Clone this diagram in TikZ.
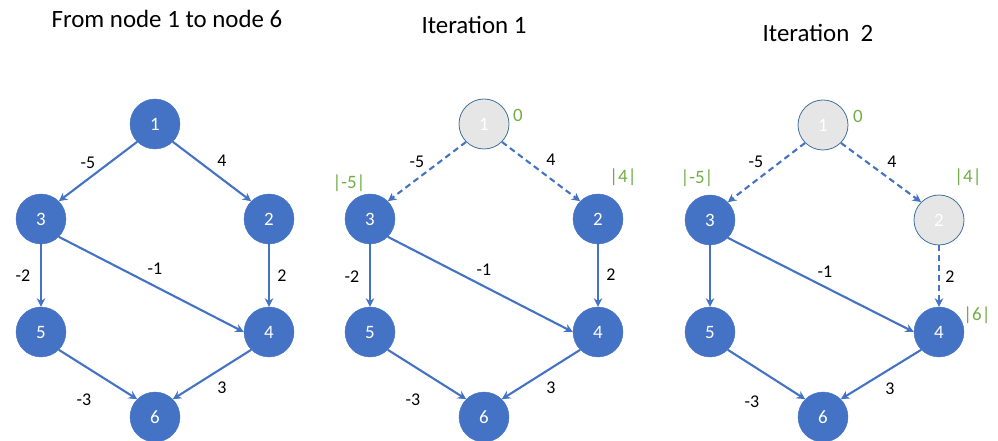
\documentclass[tikz,border=0pt]{standalone}
\usepackage{fontspec}
\setmainfont{Carlito}
\usetikzlibrary{arrows.meta}
\definecolor{nodeblue}{HTML}{4472C4}
\definecolor{edgeblue}{HTML}{4472C4}
\definecolor{visitgray}{HTML}{E7E6E6}
\definecolor{outlineblue}{HTML}{41719C}
\definecolor{distgreen}{HTML}{70AD47}
\begin{document}
\begin{tikzpicture}[x=1bp,y=-1bp,
  vnode/.style={circle, minimum size=50bp, inner sep=0pt, fill=nodeblue, draw=nodeblue, text=white, font=\fontsize{19}{21}\selectfont},
  donenode/.style={vnode, fill=visitgray, draw=outlineblue, line width=0.8bp},
  edge/.style={draw=edgeblue, line width=2.1bp, -{Stealth[length=8.5bp,width=8.5bp]}},
  dedge/.style={edge, dash pattern=on 6bp off 4bp},
  wlabel/.style={font=\fontsize{18}{20}\selectfont, text=black},
  dlabel/.style={font=\fontsize{19}{21}\selectfont, text=distgreen},
  titletext/.style={font=\fontsize{25}{28}\selectfont, anchor=base}]
\useasboundingbox (0,0) rectangle (998,441);

% titles
\node[titletext] (t1) at (167,28) {From node 1 to node 6};
\node[titletext] (t2) at (474,34) {Iteration 1};
\node[titletext] (t3) at (818,42) {Iteration\ \ 2};

% ---------- panel 1 ----------
\begin{scope}[shift={(0,0)}]
\node[vnode] (a1) at (155,124) {1};
\node[vnode] (a2) at (269,219) {2};
\node[vnode] (a3) at (41,219) {3};
\node[vnode] (a4) at (269,332) {4};
\node[vnode] (a5) at (41,332) {5};
\node[vnode] (a6) at (155,417) {6};
\draw[edge] (a1.south west) -- (a3.north east);
\draw[edge] (a1.south east) -- (a2.north west);
\draw[edge] (a3) -- (a5);
\draw[edge] (a3.south east) -- (a4.west);
\draw[edge] (a2) -- (a4);
\draw[edge] (a5.south east) -- (a6.north west);
\draw[edge] (a4.south west) -- (a6.north east);
\node[wlabel] (a13) at (88,163) {-5};
\node[wlabel] (a12) at (222,161) {4};
\node[wlabel] (a35) at (23,276) {-2};
\node[wlabel] (a34) at (155,269) {-1};
\node[wlabel] (a24) at (282,276) {2};
\node[wlabel] (a46) at (222,388) {3};
\node[wlabel] (a56) at (84,400) {-3};
\end{scope}

% ---------- panel 2 ----------
\begin{scope}[shift={(329,0)}]
\node[donenode] (b1) at (155,124) {1};
\node[vnode] (b2) at (269,219) {2};
\node[vnode] (b3) at (41,219) {3};
\node[vnode] (b4) at (269,332) {4};
\node[vnode] (b5) at (41,332) {5};
\node[vnode] (b6) at (155,417) {6};
\draw[dedge] (b1.south west) -- (b3.north east);
\draw[dedge] (b1.south east) -- (b2.north west);
\draw[edge] (b3) -- (b5);
\draw[edge] (b3.south east) -- (b4.west);
\draw[edge] (b2) -- (b4);
\draw[edge] (b5.south east) -- (b6.north west);
\draw[edge] (b4.south west) -- (b6.north east);
\node[wlabel] (b13) at (88,162) {-5};
\node[wlabel] (b12) at (222,160) {4};
\node[wlabel] (b35) at (23,277) {-2};
\node[wlabel] (b34) at (155,270) {-1};
\node[wlabel] (b24) at (282,275) {2};
\node[wlabel] (b46) at (222,388) {3};
\node[wlabel] (b56) at (84,400) {-3};
\node[dlabel] (bd1) at (189,115) {0};
\node[dlabel] (bd3) at (20,183) {|-5|};
\node[dlabel] (bd2) at (294,177) {|4|};
\end{scope}

% ---------- panel 3 ----------
\begin{scope}[shift={(669,0)}]
\node[donenode] (c1) at (154,125) {1};
\node[donenode] (c2) at (270,220) {2};
\node[vnode] (c3) at (41,220) {3};
\node[vnode] (c4) at (270,332) {4};
\node[vnode] (c5) at (41,332) {5};
\node[vnode] (c6) at (154,417) {6};
\draw[dedge] (c1.south west) -- (c3.north east);
\draw[dedge] (c1.south east) -- (c2.north west);
\draw[edge] (c3) -- (c5);
\draw[edge] (c3.south east) -- (c4.west);
\draw[dedge] (c2) -- (c4);
\draw[edge] (c5.south east) -- (c6.north west);
\draw[edge] (c4.south west) -- (c6.north east);
\node[wlabel] (c13) at (87,162) {-5};
\node[wlabel] (c12) at (223,162) {4};
\node[wlabel] (c34) at (156,272) {-1};
\node[wlabel] (c24) at (281,277) {2};
\node[wlabel] (c46) at (221,389) {3};
\node[wlabel] (c56) at (83,402) {-3};
\node[dlabel] (cd1) at (189,116) {0};
\node[dlabel] (cd3) at (28,178) {|-5|};
\node[dlabel] (cd2) at (299,177) {|4|};
\node[dlabel] (cd4) at (308,315) {|6|};
\end{scope}
\end{tikzpicture}
\end{document}
